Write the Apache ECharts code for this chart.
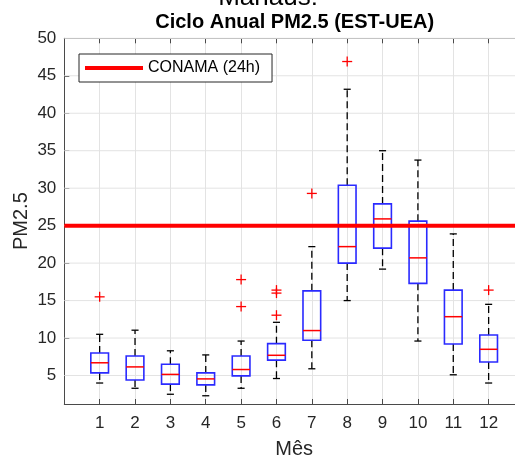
<!DOCTYPE html>
<html>
<head>
<meta charset="utf-8">
<script src="https://cdn.jsdelivr.net/npm/echarts@6/dist/echarts.min.js"></script>
<style>
html,body{margin:0;padding:0;background:#fff;}
#chart{width:515px;height:457px;}
</style>
</head>
<body>
<div id="chart"></div>
<script>
// ---- data ----
const months = [1, 2, 3, 4, 5, 6, 7, 8, 9, 10, 11, 12];
const monthLabels = ['1', '2', '3', '4', '5', '6', '7', '8', '9', '10', '11', '12'];
const whiskerLow  = [4.0, 3.3, 2.5, 2.3, 3.3, 4.6, 5.9, 15.0, 19.2, 9.6, 5.1, 4.0];
const q1          = [5.35, 4.4, 3.85, 3.75, 4.95, 7.05, 9.7, 20.0, 22.0, 17.3, 9.2, 6.8];
const medians     = [6.7, 6.15, 5.15, 4.55, 5.8, 7.7, 11.0, 22.2, 25.9, 20.7, 12.85, 8.5];
const q3          = [8.0, 7.6, 6.5, 5.35, 7.6, 9.25, 16.3, 30.4, 27.9, 25.6, 16.4, 10.4];
const whiskerHigh = [10.5, 11.05, 8.3, 7.75, 9.6, 12.1, 22.2, 43.2, 35.0, 33.75, 23.9, 14.5];
const outlierMonths = [1, 5, 5, 6, 6, 6, 7, 8, 12];
const outlierValues = [15.5, 17.8, 14.2, 16.4, 16.0, 13.05, 29.3, 46.9, 16.4];
const conamaLimit = 25;
const conamaName = 'CONAMA (24h)';
const yTicks = [5, 10, 15, 20, 25, 30, 35, 40, 45, 50];
const xRange = [0, 13];
const yRange = [1.2, 50];

const FONT = 'Liberation Sans, Arial, Helvetica, sans-serif';
const AXIS_COLOR = '#4a4a4a';
const TEXT_COLOR = '#262626';

const boxData = months.map((m, i) => [m, whiskerLow[i], q1[i], medians[i], q3[i], whiskerHigh[i]]);
const outlierData = outlierMonths.map((m, i) => [m, outlierValues[i]]);
const gridData = yTicks.map(v => [xRange[0], v]);

const chart = echarts.init(document.getElementById('chart'), null, {renderer: 'canvas'});

const option = {
  animation: false,
  backgroundColor: '#ffffff',
  textStyle: {fontFamily: FONT},
  graphic: [
    {type: 'text', x: 268, y: -2.3, style: {text: 'Manaus:', font: '26px ' + FONT, fill: '#000', textAlign: 'center', textVerticalAlign: 'middle'}},
    {type: 'text', x: 294.7, y: 22.6, style: {text: 'Ciclo Anual PM2.5 (EST-UEA)', font: 'bold 20px ' + FONT, fill: '#000', textAlign: 'center', textVerticalAlign: 'middle'}}
  ],
  legend: {
    data: [conamaName],
    left: 79,
    top: 54,
    orient: 'vertical',
    icon: 'rect',
    itemWidth: 58,
    itemHeight: 4,
    padding: [6, 12, 6, 6],
    backgroundColor: '#ffffff',
    borderColor: '#262626',
    borderWidth: 1,
    borderRadius: 0,
    textStyle: {fontFamily: FONT, fontSize: 16, color: '#000'},
    selectedMode: false
  },
  grid: {left: 64.3, top: 38.3, right: -9, bottom: 53, containLabel: false, outerBoundsMode: 'none'},
  xAxis: [
    {
      type: 'value', min: xRange[0], max: xRange[1], interval: 1, position: 'bottom',
      name: 'Mês', nameLocation: 'middle', nameGap: 35, nameMoveOverlap: false,
      nameTextStyle: {fontFamily: FONT, fontSize: 20, color: TEXT_COLOR},
      axisLine: {show: true, lineStyle: {color: AXIS_COLOR, width: 1}},
      axisTick: {show: true, inside: true, length: 5, lineStyle: {color: AXIS_COLOR}},
      axisLabel: {
        fontFamily: FONT, fontSize: 17, color: TEXT_COLOR, margin: 11,
        formatter: v => { const i = months.indexOf(v); return i >= 0 ? monthLabels[i] : ''; }
      },
      splitLine: {show: true, lineStyle: {color: '#e3e3e3', width: 1}}
    },
    {
      type: 'value', min: xRange[0], max: xRange[1], interval: 1, position: 'top',
      axisLine: {show: true, lineStyle: {color: AXIS_COLOR, width: 1}},
      axisTick: {show: true, inside: true, length: 5, lineStyle: {color: AXIS_COLOR}},
      axisLabel: {show: false},
      splitLine: {show: false}
    }
  ],
  yAxis: {
    type: 'value', min: yRange[0], max: yRange[1],
    name: 'PM2.5', nameLocation: 'middle', nameGap: 33, nameMoveOverlap: false,
    nameTextStyle: {fontFamily: FONT, fontSize: 20, color: TEXT_COLOR},
    axisLine: {show: true, lineStyle: {color: AXIS_COLOR, width: 1}},
    axisTick: {show: true, inside: true, length: 5, customValues: yTicks, lineStyle: {color: AXIS_COLOR}},
    axisLabel: {fontFamily: FONT, fontSize: 17, color: TEXT_COLOR, margin: 8, customValues: yTicks},
    splitLine: {show: false}
  },
  series: [
    {
      type: 'custom', name: 'grid', silent: true, z: 1, xAxisIndex: 0,
      data: gridData, encode: {x: 0, y: 1},
      renderItem: (params, api) => {
        const a = api.coord([xRange[0], api.value(1)]);
        const b = api.coord([xRange[1], api.value(1)]);
        return {type: 'line', shape: {x1: a[0], y1: a[1], x2: b[0], y2: b[1]}, style: {stroke: '#e3e3e3', lineWidth: 1}};
      }
    },
    {
      type: 'custom', name: 'box', silent: true, z: 2, xAxisIndex: 0,
      data: boxData, encode: {x: 0, y: [1, 2, 3, 4, 5]},
      renderItem: (params, api) => {
        const x = api.value(0);
        const pLo = api.coord([x, api.value(1)]);
        const pQ1 = api.coord([x, api.value(2)]);
        const pMed = api.coord([x, api.value(3)]);
        const pQ3 = api.coord([x, api.value(4)]);
        const pHi = api.coord([x, api.value(5)]);
        const hw = api.size([0.25, 0])[0];
        const cw = api.size([0.1, 0])[0];
        const cx = pMed[0];
        const dash = {stroke: '#000', lineWidth: 1.3, lineDash: [7, 4]};
        const solid = {stroke: '#000', lineWidth: 1.3};
        return {
          type: 'group',
          children: [
            {type: 'line', shape: {x1: cx, y1: pQ3[1], x2: cx, y2: pHi[1]}, style: dash},
            {type: 'line', shape: {x1: cx, y1: pQ1[1], x2: cx, y2: pLo[1]}, style: dash},
            {type: 'line', shape: {x1: cx - cw, y1: pHi[1], x2: cx + cw, y2: pHi[1]}, style: solid},
            {type: 'line', shape: {x1: cx - cw, y1: pLo[1], x2: cx + cw, y2: pLo[1]}, style: solid},
            {type: 'rect', shape: {x: cx - hw, y: pQ3[1], width: 2 * hw, height: pQ1[1] - pQ3[1]}, style: {fill: 'none', stroke: '#2a2aff', lineWidth: 1.6}},
            {type: 'line', shape: {x1: cx - hw, y1: pMed[1], x2: cx + hw, y2: pMed[1]}, style: {stroke: '#ff0000', lineWidth: 1.5}}
          ]
        };
      }
    },
    {
      type: 'line', name: conamaName, z: 3, xAxisIndex: 0,
      data: [[xRange[0], conamaLimit], [xRange[1], conamaLimit]],
      showSymbol: false, symbol: 'none', silent: true,
      lineStyle: {color: '#ff0000', width: 4},
      itemStyle: {color: '#ff0000'}
    },
    {
      type: 'custom', name: 'outliers', silent: true, z: 4, xAxisIndex: 0,
      data: outlierData, encode: {x: 0, y: 1},
      renderItem: (params, api) => {
        const p = api.coord([api.value(0), api.value(1)]);
        const s = 5;
        const st = {stroke: '#ff0000', lineWidth: 1.3};
        return {
          type: 'group',
          children: [
            {type: 'line', shape: {x1: p[0] - s, y1: p[1], x2: p[0] + s, y2: p[1]}, style: st},
            {type: 'line', shape: {x1: p[0], y1: p[1] - s, x2: p[0], y2: p[1] + s}, style: st}
          ]
        };
      }
    }
  ]
};
chart.setOption(option);
</script>
</body>
</html>
